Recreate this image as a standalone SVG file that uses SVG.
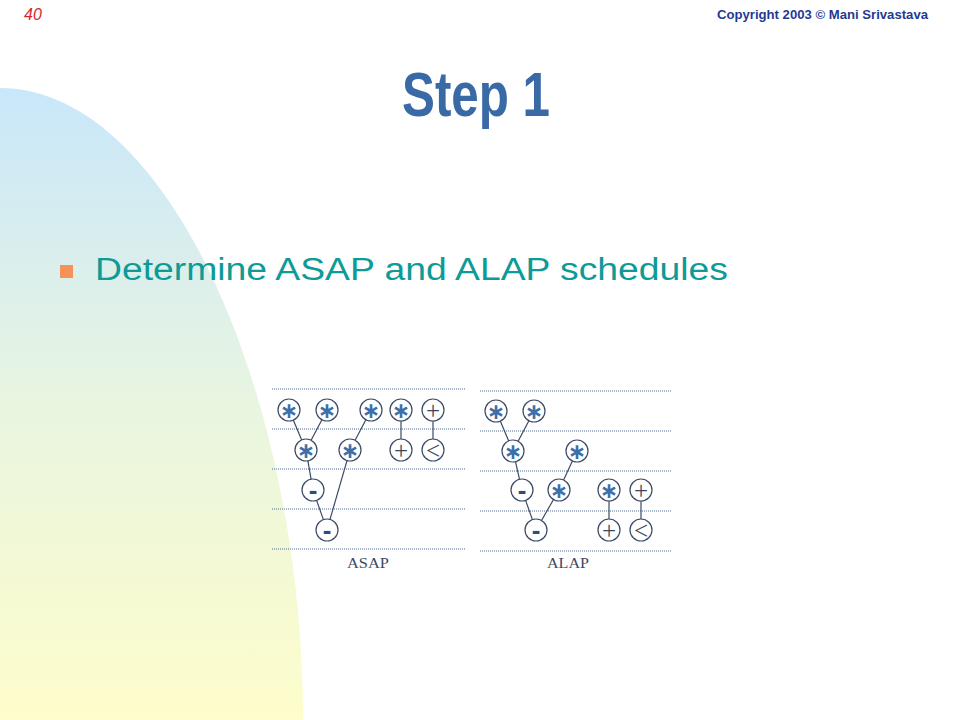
<svg xmlns="http://www.w3.org/2000/svg" width="960" height="720" viewBox="0 0 960 720">
<defs>
<linearGradient id="bg" x1="0" y1="88" x2="0" y2="720" gradientUnits="userSpaceOnUse">
<stop offset="0" stop-color="#c9e7fb"/>
<stop offset="0.5" stop-color="#e8f5e0"/>
<stop offset="1" stop-color="#fefdcb"/>
</linearGradient>
<style>
.grid{stroke:#4f6b8f;stroke-width:1;stroke-dasharray:1 1;fill:none}
.edge{stroke:#3c4a66;stroke-width:1.2;fill:none}
.node circle{fill:#ffffff;stroke:#3c4a66;stroke-width:1.2}
.ast{font-family:"DejaVu Sans",sans-serif;font-weight:bold;font-size:22px;fill:#3e6fa9;text-anchor:middle;dominant-baseline:central}
.sub{font-family:"Liberation Sans",Arial,sans-serif;font-weight:bold;font-size:26px;fill:#2d4d7d;text-anchor:middle;dominant-baseline:central}
.thin{font-family:"Liberation Serif","Times New Roman",serif;font-size:25px;fill:#3a4560;text-anchor:middle;dominant-baseline:central}
.lbl{font-family:"Liberation Serif","Times New Roman",serif;font-size:15px;fill:#3d4a66}
</style>
</defs>
<rect width="960" height="720" fill="#ffffff"/>
<path d="M0,88 C170,88 303,400 303,720 L0,720 Z" fill="url(#bg)"/>
<text x="24" y="20" font-family="Liberation Sans,Arial,sans-serif" font-style="italic" font-size="16" fill="#d9262e">40</text>
<text x="717" y="18.5" font-family="Liberation Sans,Arial,sans-serif" font-weight="bold" font-size="13" fill="#1f3a93" textLength="211" lengthAdjust="spacingAndGlyphs">Copyright 2003 © Mani Srivastava</text>
<text x="402" y="116" font-family="Liberation Sans Narrow,Liberation Sans,Arial,sans-serif" font-weight="bold" font-size="63" fill="#3a6aa5" textLength="148" lengthAdjust="spacingAndGlyphs">Step 1</text>
<rect x="60" y="265" width="13" height="13" fill="#f7915a"/>
<text x="95" y="280" font-family="Liberation Sans,Arial,sans-serif" font-size="31" fill="#0e9a96" textLength="633" lengthAdjust="spacingAndGlyphs">Determine ASAP and ALAP schedules</text>

<g id="grid-asap">
<line class="grid" x1="272" y1="389" x2="465" y2="389"/>
<line class="grid" x1="272" y1="429" x2="465" y2="429"/>
<line class="grid" x1="272" y1="469" x2="465" y2="469"/>
<line class="grid" x1="272" y1="509" x2="465" y2="509"/>
<line class="grid" x1="272" y1="549" x2="465" y2="549"/>
</g>
<g id="grid-alap">
<line class="grid" x1="480" y1="391" x2="672" y2="391"/>
<line class="grid" x1="480" y1="431" x2="672" y2="431"/>
<line class="grid" x1="480" y1="471" x2="672" y2="471"/>
<line class="grid" x1="480" y1="511" x2="672" y2="511"/>
<line class="grid" x1="480" y1="551" x2="672" y2="551"/>
</g>

<g id="connectors">
<line class="edge" x1="293.3" y1="420.1" x2="301.7" y2="439.9"/>
<line class="edge" x1="321.9" y1="419.7" x2="311.1" y2="440.3"/>
<line class="edge" x1="365.9" y1="419.7" x2="355.1" y2="440.3"/>
<line class="edge" x1="401" y1="421" x2="401" y2="439"/>
<line class="edge" x1="433" y1="421" x2="433" y2="439"/>
<line class="edge" x1="307.9" y1="460.8" x2="311.1" y2="479.2"/>
<line class="edge" x1="316.6" y1="500.4" x2="323.4" y2="519.6"/>
<line class="edge" x1="347" y1="460.6" x2="330" y2="519.4"/>
<line class="edge" x1="500.3" y1="421.1" x2="508.7" y2="440.9"/>
<line class="edge" x1="528.9" y1="420.7" x2="518.1" y2="441.3"/>
<line class="edge" x1="515.5" y1="461.7" x2="519.5" y2="479.3"/>
<line class="edge" x1="572.4" y1="461" x2="563.6" y2="480"/>
<line class="edge" x1="525.6" y1="500.4" x2="532.4" y2="519.6"/>
<line class="edge" x1="553.5" y1="499.5" x2="541.5" y2="520.5"/>
<line class="edge" x1="609" y1="501" x2="609" y2="519"/>
<line class="edge" x1="641" y1="501" x2="641" y2="519"/>
</g>

<g id="asap-m1" class="node"><circle cx="289" cy="410" r="11"/><text class="ast" x="289" y="410">∗</text></g>
<g id="asap-m2" class="node"><circle cx="327" cy="410" r="11"/><text class="ast" x="327" y="410">∗</text></g>
<g id="asap-m3" class="node"><circle cx="371" cy="410" r="11"/><text class="ast" x="371" y="410">∗</text></g>
<g id="asap-m4" class="node"><circle cx="401" cy="410" r="11"/><text class="ast" x="401" y="410">∗</text></g>
<g id="asap-a1" class="node"><circle cx="433" cy="410" r="11"/><text class="thin" x="433" y="410">+</text></g>
<g id="asap-m5" class="node"><circle cx="306" cy="450" r="11"/><text class="ast" x="306" y="450">∗</text></g>
<g id="asap-m6" class="node"><circle cx="350" cy="450" r="11"/><text class="ast" x="350" y="450">∗</text></g>
<g id="asap-a2" class="node"><circle cx="401" cy="450" r="11"/><text class="thin" x="401" y="450">+</text></g>
<g id="asap-c1" class="node"><circle cx="433" cy="450" r="11"/><text class="thin" x="433" y="450">&lt;</text></g>
<g id="asap-s1" class="node"><circle cx="313" cy="490" r="11"/><text class="sub" x="313" y="490">-</text></g>
<g id="asap-s2" class="node"><circle cx="327" cy="530" r="11"/><text class="sub" x="327" y="530">-</text></g>
<text class="lbl" x="347" y="568" textLength="42" lengthAdjust="spacingAndGlyphs">ASAP</text>

<g id="alap-m1" class="node"><circle cx="496" cy="411" r="11"/><text class="ast" x="496" y="411">∗</text></g>
<g id="alap-m2" class="node"><circle cx="534" cy="411" r="11"/><text class="ast" x="534" y="411">∗</text></g>
<g id="alap-m5" class="node"><circle cx="513" cy="451" r="11"/><text class="ast" x="513" y="451">∗</text></g>
<g id="alap-m3" class="node"><circle cx="577" cy="451" r="11"/><text class="ast" x="577" y="451">∗</text></g>
<g id="alap-s1" class="node"><circle cx="522" cy="490" r="11"/><text class="sub" x="522" y="490">-</text></g>
<g id="alap-m6" class="node"><circle cx="559" cy="490" r="11"/><text class="ast" x="559" y="490">∗</text></g>
<g id="alap-m4" class="node"><circle cx="609" cy="490" r="11"/><text class="ast" x="609" y="490">∗</text></g>
<g id="alap-a1" class="node"><circle cx="641" cy="490" r="11"/><text class="thin" x="641" y="490">+</text></g>
<g id="alap-s2" class="node"><circle cx="536" cy="530" r="11"/><text class="sub" x="536" y="530">-</text></g>
<g id="alap-a2" class="node"><circle cx="609" cy="530" r="11"/><text class="thin" x="609" y="530">+</text></g>
<g id="alap-c1" class="node"><circle cx="641" cy="530" r="11"/><text class="thin" x="641" y="530">&lt;</text></g>
<text class="lbl" x="547" y="568" textLength="42" lengthAdjust="spacingAndGlyphs">ALAP</text>
</svg>
